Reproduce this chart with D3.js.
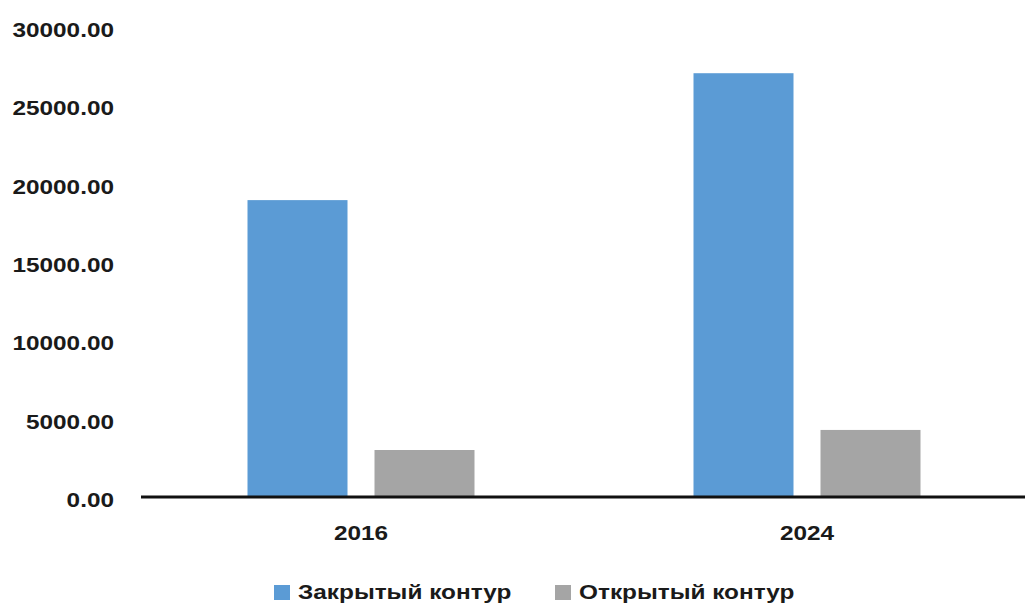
<!DOCTYPE html>
<html><head><meta charset="utf-8">
<script src="https://cdn.jsdelivr.net/npm/d3@7"></script>
<style>
body{margin:0;background:#fff;}
svg{display:block;}
text{font-family:"Liberation Sans",Arial,sans-serif;font-weight:bold;fill:#1a1a1a;}
</style></head>
<body>
<svg id="c" width="1025" height="604"></svg>
<script>
const categories = ["2016", "2024"];
const seriesNames = ["Закрытый контур", "Открытый контур"];
const closedValues = [18950, 27050];
const openValues = [3000, 4280];
const yTicks = [0, 5000, 10000, 15000, 20000, 25000, 30000];
const colors = ["#5B9BD5", "#A5A5A5"];

const svg = d3.select("#c");
const W = 1025, H = 604;
const margin = {left: 138, right: -5, top: 27, bottom: 107};
const x0 = d3.scaleBand().domain(categories).range([margin.left, W - margin.right]).padding(0);
const x1 = d3.scaleBand().domain(seriesNames).range([0, 227]).paddingInner(0.2126);
const y = d3.scaleLinear().domain([0, 30000]).range([H - margin.bottom, margin.top]);

const stretch = 1.16;
function stretchText(sel){
  sel.each(function(){
    const l = this.getComputedTextLength();
    d3.select(this).attr("textLength", l*stretch).attr("lengthAdjust","spacingAndGlyphs");
  });
}

// y axis labels
const yAxis = d3.axisLeft(y).tickValues(yTicks).tickSize(0).tickFormat(d => d3.format(".2f")(d));
const gy = svg.append("g").attr("transform", `translate(${114},0)`).call(yAxis);
gy.select(".domain").remove();
gy.selectAll("text").attr("x", 0).attr("dy", "0.45em").style("font-size","21px")
  .style("font-family","Liberation Sans, Arial, sans-serif").style("font-weight","bold").attr("fill","#1a1a1a");
gy.selectAll("text").call(stretchText);

// bars
const data = categories.map((c,i)=>({cat:c, vals:[closedValues[i], openValues[i]]}));
const groups = svg.append("g").selectAll("g").data(data).join("g")
  .attr("transform", d => `translate(${x0(d.cat) + x0.bandwidth()/2 - 113.5},0)`);
groups.selectAll("rect").data(d => d.vals.map((v,j)=>({name:seriesNames[j], v, j})))
  .join("rect")
  .attr("x", d => x1(d.name))
  .attr("width", x1.bandwidth())
  .attr("y", d => y(d.v))
  .attr("height", d => y(0) - y(d.v))
  .attr("fill", d => colors[d.j]);

// x axis
const xAxis = d3.axisBottom(x0).tickSize(0).tickPadding(0);
const gx = svg.append("g").attr("transform", `translate(0,${y(0)})`).call(xAxis);
gx.select(".domain").attr("stroke","#111").attr("stroke-width",3).attr("d", `M${margin.left+3},0H${W}`);
gx.selectAll("text").attr("y", 43).attr("dy", 0).style("font-size","21px")
  .style("font-family","Liberation Sans, Arial, sans-serif").style("font-weight","bold").attr("fill","#1a1a1a");
gx.selectAll("text").call(stretchText);

// legend
const legendX = [274, 555];
const leg = svg.append("g").selectAll("g").data(seriesNames).join("g")
  .attr("transform", (d,i) => `translate(${legendX[i]},0)`);
leg.append("rect").attr("x",0).attr("y",585).attr("width",16).attr("height",15).attr("fill",(d,i)=>colors[i]);
leg.append("text").attr("x",24).attr("y",599).text(d=>d).style("font-size","21px").call(stretchText);
</script>
</body></html>
